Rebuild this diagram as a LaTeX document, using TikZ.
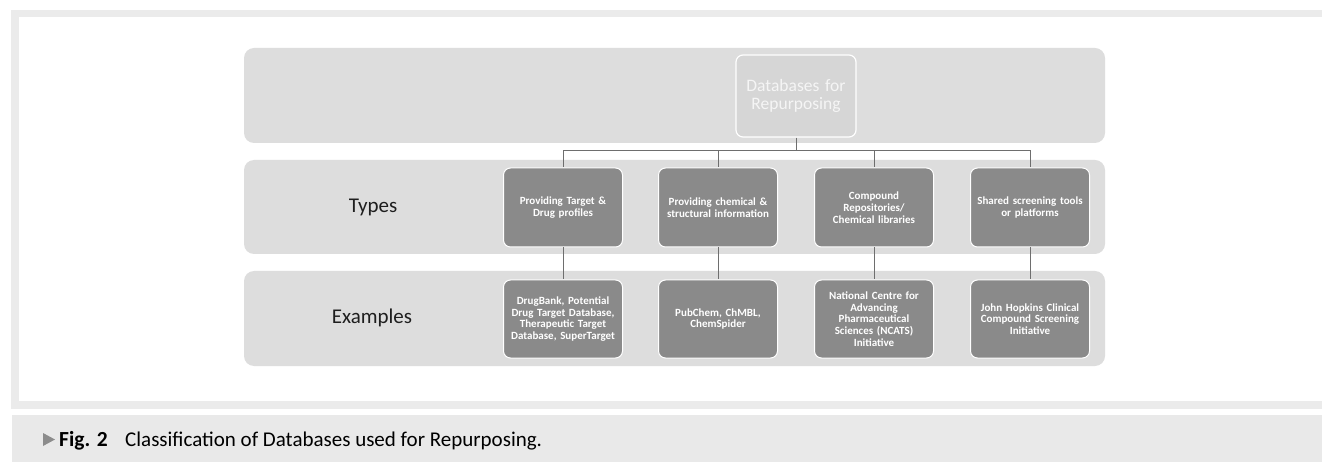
\documentclass[tikz,border=0pt]{standalone}
\usepackage{fontspec}
\setmainfont{Carlito}
\definecolor{framegray}{HTML}{EBEBEB}
\definecolor{capgray}{HTML}{E9E9E9}
\definecolor{bandgray}{HTML}{DDDDDD}
\definecolor{boxgray}{HTML}{8A8A8A}
\definecolor{topgray}{HTML}{D6D6D6}
\definecolor{linegray}{HTML}{6E6E6E}
\definecolor{labelgray}{HTML}{1E1E1E}
\definecolor{arrowgray}{HTML}{8C8C8C}
\begin{document}
\begin{tikzpicture}[x=1pt,y=-1pt,
  band/.style={fill=bandgray, rounded corners=10pt},
  catbox/.style={rectangle, rounded corners=7pt, fill=boxgray, draw=white, line width=1pt,
    minimum width=119pt, minimum height=79pt, text width=119pt, align=center, inner sep=0pt,
    text=white, font=\fontsize{11}{11.8}\selectfont\bfseries},
  topbox/.style={rectangle, rounded corners=7pt, fill=topgray, draw=white, line width=1.2pt,
    minimum width=120pt, minimum height=82pt, text width=116pt, align=center, inner sep=0pt,
    text=white!96!black, font=\fontsize{17.5}{18.5}\selectfont},
  rowlabel/.style={text=labelgray, font=\fontsize{21}{24}\selectfont},
  conn/.style={draw=linegray, line width=1pt}
]
\useasboundingbox (0,0) rectangle (1322,462);
% frame and caption band
\fill[framegray] (11,10) rectangle (1322,409);
\fill[white] (18.5,17.5) rectangle (1322,401);
\fill[capgray] (12,415) rectangle (1322,462);
% row bands
\fill[band] (244,48) rectangle (1105,143);
\fill[band] (244,160) rectangle (1105,254);
\fill[band] (244,271) rectangle (1105,366);
% row labels
\node[rowlabel] (lt) at (373,207) {Types};
\node[rowlabel] (le) at (372,318) {Examples};
% nodes
\node[topbox] (top) at (796,96) {Databases for\\Repurposing};
\node[catbox] (t1) at (563,207.5) {Providing Target \&\\Drug profiles};
\node[catbox] (t2) at (718,207.5) {Providing chemical \&\\structural information};
\node[catbox] (t3) at (874,207.5) {Compound\\Repositories/\\Chemical libraries};
\node[catbox] (t4) at (1030,207.5) {Shared screening tools\\or platforms};
\node[catbox, minimum height=78pt] (e1) at (563,319) {DrugBank, Potential\\Drug Target Database,\\Therapeutic Target\\Database, SuperTarget};
\node[catbox, minimum height=78pt] (e2) at (718,319) {PubChem, ChMBL,\\ChemSpider};
\node[catbox, minimum height=78pt] (e3) at (874,319) {National Centre for\\Advancing\\Pharmaceutical\\Sciences (NCATS)\\Initiative};
\node[catbox, minimum height=78pt] (e4) at (1030,319) {John Hopkins Clinical\\Compound Screening\\Initiative};
% connectors
\coordinate (bus) at (796,151);
\draw[conn] (top.south) -- (bus);
\draw[conn] (bus) -| (t1.north);
\draw[conn] (bus) -| (t2.north);
\draw[conn] (bus) -| (t3.north);
\draw[conn] (bus) -| (t4.north);
\draw[conn] (t1.south) -- (e1.north);
\draw[conn] (t2.south) -- (e2.north);
\draw[conn] (t3.south) -- (e3.north);
\draw[conn] (t4.south) -- (e4.north);
% caption
\fill[arrowgray] (43,433) -- (55,439.5) -- (43,446) -- cycle;
\node[anchor=base west, inner sep=0pt, font=\fontsize{21.5}{24}\selectfont\bfseries, text=black] (figno) at (59,446.5) {Fig. 2};
\node[anchor=base west, inner sep=0pt, font=\fontsize{21}{24}\selectfont, text=black] (captxt) at (125,446.5) {Classification of Databases used for Repurposing.};
\end{tikzpicture}
\end{document}
